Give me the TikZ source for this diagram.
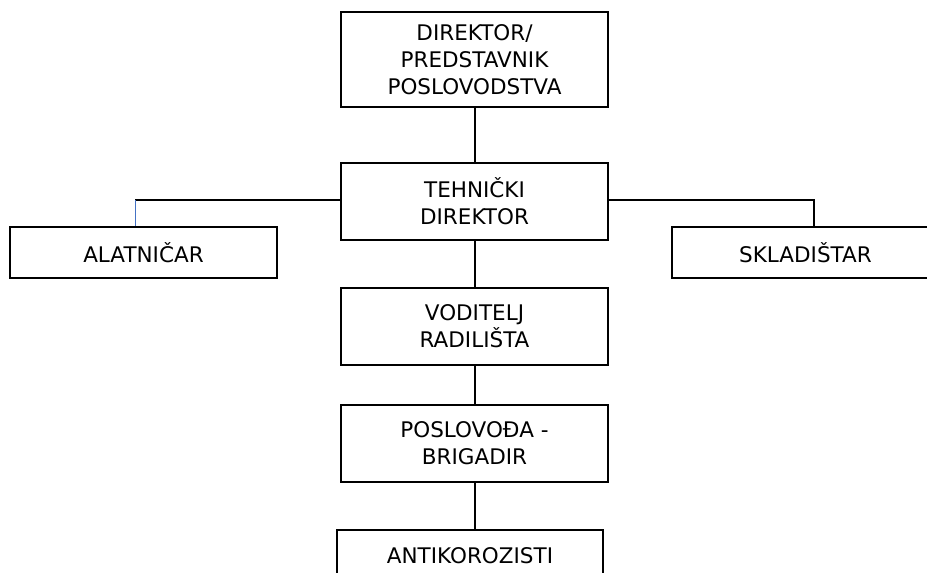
\documentclass[tikz,border=0pt]{standalone}
\usepackage{fontspec}
\setmainfont{DejaVu Sans}
\definecolor{linkblue}{RGB}{68,114,196}
\begin{document}
\begin{tikzpicture}[x=1pt,y=-1pt,
  box/.style={draw=black,line width=2pt,fill=white,rectangle,align=center,inner sep=0pt,
    font=\fontsize{21.5}{27}\selectfont,text=black},
  link/.style={draw=black,line width=2pt}]
\useasboundingbox (0,0) rectangle (927,573);
\clip (0,0) rectangle (927,573);
\node[box,minimum width=267pt,minimum height=95pt] (dir) at (474.5,59.5) {DIREKTOR/\\PREDSTAVNIK\\POSLOVODSTVA};
\node[box,minimum width=267pt,minimum height=77pt] (teh) at (474.5,201.5) {TEHNIČKI\\DIREKTOR};
\node[box,minimum width=267pt,minimum height=51pt] (alat) at (143.5,252.5) {ALATNIČAR};
\node[box,minimum width=267pt,minimum height=51pt] (skl) at (805.5,252.5) {SKLADIŠTAR};
\node[box,minimum width=267pt,minimum height=77pt] (vod) at (474.5,326.5) {VODITELJ\\RADILIŠTA};
\node[box,minimum width=267pt,minimum height=77pt] (pos) at (474.5,443.5) {POSLOVOĐA -\\BRIGADIR};
\node[box,minimum width=266pt,minimum height=51pt] (anti) at (470,555.5) {ANTIKOROZISTI};
\coordinate (lj) at (135,200);
\coordinate (rj) at (814,200);
\draw[link] (dir.south) -- (teh.north);
\draw[link] (teh.west |- lj) -- (lj);
\draw[linkblue,line width=0.8pt] (lj) -- (lj |- alat.north);
\draw[link] (teh.east |- rj) -- (rj) -- (rj |- skl.north);
\draw[link] (teh.south) -- (vod.north);
\draw[link] (vod.south) -- (pos.north);
\draw[link] (pos.south) -- (pos.south |- anti.north);
\end{tikzpicture}
\end{document}
